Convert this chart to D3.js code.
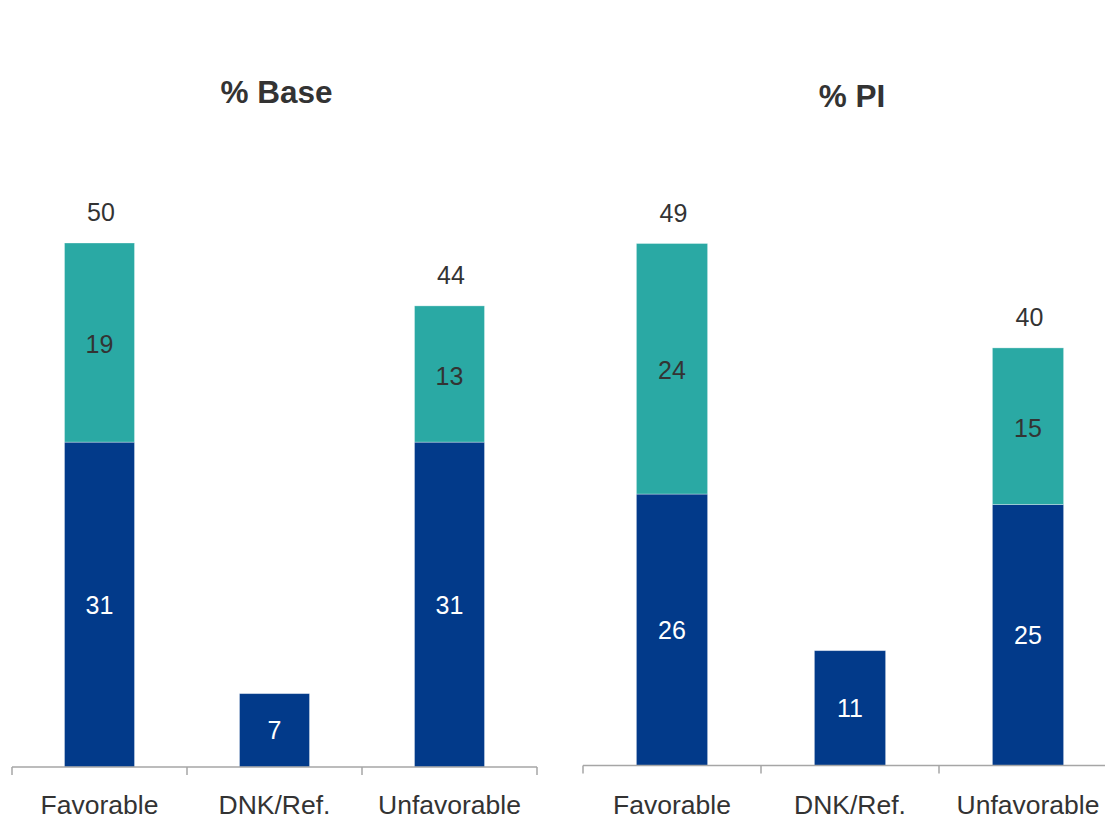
<!DOCTYPE html>
<html>
<head>
<meta charset="utf-8">
<script src="https://cdn.jsdelivr.net/npm/d3@7/dist/d3.min.js"></script>
<style>
  html, body { margin: 0; padding: 0; background: #ffffff; }
  svg { display: block; font-family: "Liberation Sans", Arial, sans-serif; }
</style>
</head>
<body>
<svg id="chart" width="1105" height="819"></svg>
<script>
// ---- Data ----
const categories = ["Favorable", "DNK/Ref.", "Unfavorable"];
const panelTitles = ["% Base", "% PI"];
// bottom (dark blue) segment per panel
const baseBottom = [31, 7, 31];
const piBottom = [26, 11, 25];
// top (teal) segment per panel (0 = none)
const baseTop = [19, 0, 13];
const piTop = [24, 0, 15];
// total labels shown above bars (null = none)
const baseTotals = [50, null, 44];
const piTotals = [49, null, 40];

const colors = { bottom: "#023A8A", top: "#2AA9A4", text: "#333333", axis: "#A6A6A6" };

const svg = d3.select("#chart");

const panels = [
  { title: panelTitles[0], bottom: baseBottom, top: baseTop, totals: baseTotals,
    xRange: [12, 537], yRange: [767, 243], titleX: 276.5, titleY: 103, axisEnd: 537 },
  { title: panelTitles[1], bottom: piBottom, top: piTop, totals: piTotals,
    xRange: [583, 1117], yRange: [765.5, 243.5], titleX: 852, titleY: 107, axisEnd: 1105 }
];

panels.forEach(p => {
  const g = svg.append("g");
  const x = d3.scaleBand().domain(categories).range(p.xRange).paddingInner(0.6).paddingOuter(0.3);
  const y = d3.scaleLinear().domain([0, 50]).range(p.yRange);
  const step = x.step();
  const half = (step - x.bandwidth()) / 2;

  // Title
  g.append("text")
    .attr("x", p.titleX).attr("y", p.titleY)
    .attr("text-anchor", "middle")
    .attr("font-size", 31.5).attr("font-weight", "bold")
    .attr("fill", colors.text)
    .text(p.title);

  const rows = categories.map((c, i) => ({ c, b: p.bottom[i], t: p.top[i], tot: p.totals[i] }));

  // Bottom segments
  g.selectAll(".bot").data(rows).join("rect")
    .attr("x", d => x(d.c)).attr("width", x.bandwidth())
    .attr("y", d => y(d.b)).attr("height", d => y(0) - y(d.b))
    .attr("fill", colors.bottom)
    .attr("stroke", "#ffffff").attr("stroke-opacity", 0.4).attr("stroke-width", 0.8);

  // Top segments
  g.selectAll(".top").data(rows.filter(d => d.t > 0)).join("rect")
    .attr("x", d => x(d.c)).attr("width", x.bandwidth())
    .attr("y", d => y(d.b + d.t)).attr("height", d => y(d.b) - y(d.b + d.t))
    .attr("fill", colors.top)
    .attr("stroke", "#ffffff").attr("stroke-opacity", 0.4).attr("stroke-width", 0.8);

  // Labels in bottom segments
  g.selectAll(".botlbl").data(rows).join("text")
    .attr("x", d => x(d.c) + x.bandwidth() / 2)
    .attr("y", d => (y(0) + y(d.b)) / 2)
    .attr("dy", "0.36em")
    .attr("text-anchor", "middle").attr("font-size", 25)
    .attr("fill", "#ffffff")
    .text(d => d.b);

  // Labels in top segments
  g.selectAll(".toplbl").data(rows.filter(d => d.t > 0)).join("text")
    .attr("x", d => x(d.c) + x.bandwidth() / 2)
    .attr("y", d => (y(d.b) + y(d.b + d.t)) / 2 + 1.5)
    .attr("dy", "0.36em")
    .attr("text-anchor", "middle").attr("font-size", 25)
    .attr("fill", colors.text)
    .text(d => d.t);

  // Totals
  g.selectAll(".tot").data(rows.filter(d => d.tot != null)).join("text")
    .attr("x", d => x(d.c) + x.bandwidth() / 2 + 1.5)
    .attr("y", d => y(d.b + d.t) - 22)
    .attr("text-anchor", "middle").attr("font-size", 25)
    .attr("fill", colors.text)
    .text(d => d.tot);

  // Axis line
  const y0 = y(0);
  g.append("line")
    .attr("x1", p.xRange[0]).attr("x2", p.axisEnd)
    .attr("y1", y0).attr("y2", y0)
    .attr("stroke", colors.axis).attr("stroke-width", 1.5);

  // Tick marks at band boundaries
  const tickXs = categories.map(c => x(c) - half).concat([x(categories[categories.length - 1]) + x.bandwidth() + half]);
  g.selectAll(".tick").data(tickXs.filter(t => t <= 1105)).join("line")
    .attr("x1", d => d).attr("x2", d => d)
    .attr("y1", y0).attr("y2", y0 + 8)
    .attr("stroke", colors.axis).attr("stroke-width", 1.5);

  // Category labels
  g.selectAll(".cat").data(categories).join("text")
    .attr("x", c => x(c) + x.bandwidth() / 2)
    .attr("y", 814)
    .attr("text-anchor", "middle").attr("font-size", 26.5)
    .attr("fill", colors.text)
    .text(c => c);
});
</script>
</body>
</html>
